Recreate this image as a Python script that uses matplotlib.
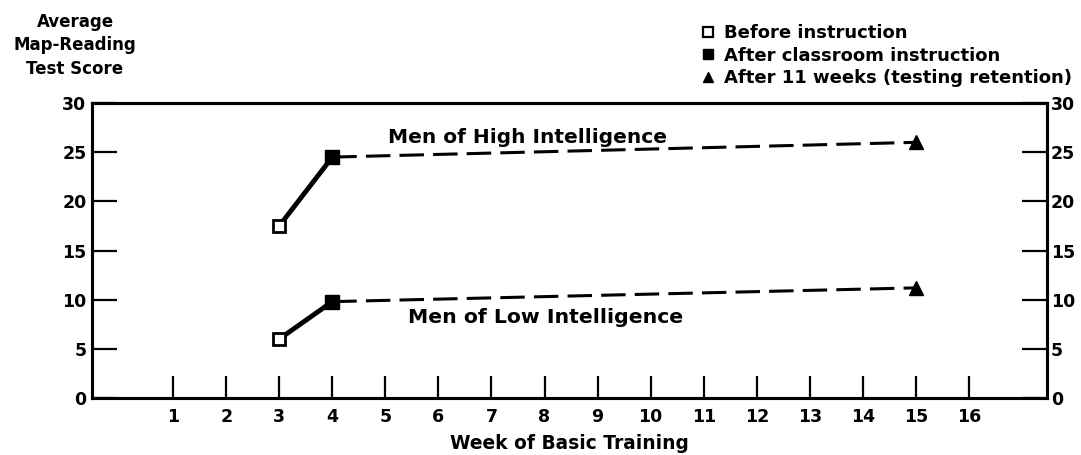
import matplotlib.pyplot as plt
from matplotlib.lines import Line2D

plt.rcParams['font.family'] = ['DejaVu Sans']
plt.rcParams['font.weight'] = 'bold'

# data
weeks = [3, 4, 15]          # before, after classroom, after 11 weeks
high_scores = [17.5, 24.5, 26.0]
low_scores = [6.0, 9.8, 11.2]
week_ticks = list(range(1, 17))
score_ticks = [0, 5, 10, 15, 20, 25, 30]

fig = plt.figure(figsize=(10.81, 4.55), dpi=100)
ax = fig.add_axes([0.0851, 0.1253, 0.8834, 0.6483])

for scores in (high_scores, low_scores):
    # classroom gain: solid line
    ax.plot(weeks[:2], scores[:2], color='black', lw=3.5, solid_capstyle='butt', zorder=2)
    # retention: dashed line
    ax.plot(weeks[1:], scores[1:], color='black', lw=2.2, dashes=(8, 3), zorder=2)
    ax.plot(weeks[0], scores[0], marker='s', ms=9, mfc='white', mec='black', mew=2, zorder=3)
    ax.plot(weeks[1], scores[1], marker='s', ms=10, color='black', zorder=3)
    ax.plot(weeks[2], scores[2], marker='^', ms=10, color='black', zorder=3)

ax.text(5.05, 26.5, 'Men of High Intelligence', fontsize=14.5, fontweight='bold', va='center')
ax.text(5.43, 8.2, 'Men of Low Intelligence', fontsize=14.7, fontweight='bold', va='center')

ax.set_xlim(-0.53, 17.47)
ax.set_ylim(0, 30)
ax.set_xticks(week_ticks)
ax.set_yticks(score_ticks)
ax.tick_params(axis='x', direction='in', length=16, width=1.6, labelsize=12.5, pad=7)
ax.tick_params(axis='y', direction='in', length=18, width=1.6, labelsize=12.5, pad=4)
for s in ax.spines.values():
    s.set_linewidth(2.2)

ax2 = ax.twinx()
ax2.set_ylim(0, 30)
ax2.set_yticks(score_ticks)
ax2.tick_params(axis='y', direction='in', length=18, width=1.6, labelsize=12.5, pad=3)
for s in ax2.spines.values():
    s.set_linewidth(2.2)

ax.set_xlabel('Week of Basic Training', fontsize=13.4, fontweight='bold', labelpad=6)

fig.text(0.0694, 0.9, 'Average\nMap-Reading\nTest Score', ha='center', va='center',
         fontsize=12, fontweight='bold', linespacing=1.38)

handles = [
    Line2D([], [], marker='s', ls='none', ms=7, mfc='white', mec='black', mew=1.6),
    Line2D([], [], marker='s', ls='none', ms=7, color='black'),
    Line2D([], [], marker='^', ls='none', ms=7, color='black'),
]
labels = ['Before instruction', 'After classroom instruction',
          'After 11 weeks (testing retention)']
fig.legend(handles, labels, loc='upper left', bbox_to_anchor=(0.648, 0.947),
           frameon=False, handlelength=0.8, handletextpad=0.5, labelspacing=0.25,
           borderpad=0, borderaxespad=0, prop={'size': 13, 'weight': 'bold'})

fig.savefig('out.png', dpi=100)
